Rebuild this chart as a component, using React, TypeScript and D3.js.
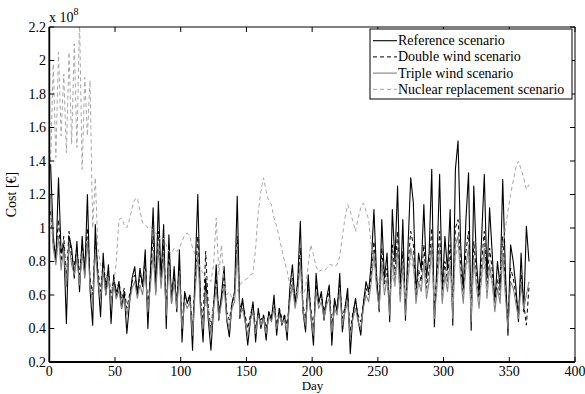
import React from "react";
import * as d3 from "d3";

// Values every second day (day 1, 3, 5, ..., 365), in units of 1e8 EUR
const DAY_STEP = 2;
const FIRST_DAY = 1;

const referenceScenario = [
  1.38, 0.95, 0.80, 1.30, 0.85, 0.90, 0.43, 0.95, 0.88, 0.70,
  0.92, 0.62, 0.95, 0.72, 1.20, 0.63, 0.42, 1.02, 0.70, 0.47,
  0.85, 0.60, 0.78, 0.43, 0.72, 0.58, 0.68, 0.52, 0.62, 0.37,
  0.55, 0.70, 0.77, 0.60, 0.76, 0.65, 0.87, 0.40, 0.75, 1.12,
  0.62, 1.16, 0.70, 1.02, 0.40, 0.96, 0.55, 0.77, 0.50, 0.87,
  0.32, 0.62, 0.55, 0.60, 0.27, 0.75, 1.20, 0.55, 0.32, 0.70,
  0.45, 0.27, 0.52, 0.78, 0.45, 0.60, 0.77, 0.45, 0.35, 0.55,
  0.62, 1.19, 0.46, 0.58, 0.45, 0.30, 0.45, 0.56, 0.32, 0.52,
  0.40, 0.48, 0.33, 0.50, 0.45, 0.60, 0.36, 0.52, 0.42, 0.48,
  0.33, 0.64, 0.78, 0.55, 0.68, 1.04, 0.50, 0.38, 0.72, 0.48,
  0.30, 0.73, 0.55, 0.62, 0.45, 0.58, 0.66, 0.30, 0.58, 0.50,
  0.73, 0.38, 0.52, 0.64, 0.25, 0.48, 0.58, 0.45, 0.36, 0.55,
  0.68, 0.62, 0.79, 1.11, 0.72, 0.50, 1.05, 0.70, 0.85, 0.44,
  1.11, 0.80, 1.25, 0.60, 1.05, 0.45, 0.90, 1.30, 1.15, 0.60,
  0.85, 0.75, 1.14, 0.70, 0.85, 1.35, 0.41, 0.80, 1.32, 0.62,
  0.95, 0.75, 1.11, 0.42, 1.35, 1.52, 0.90, 0.62, 1.05, 1.33,
  0.39, 1.25, 0.80, 0.60, 0.95, 1.32, 0.70, 1.12, 0.85, 0.55,
  0.80, 0.65, 1.29, 0.75, 0.36, 0.90, 0.80, 0.65, 0.44, 0.85,
  0.50, 1.01, 0.80,
];

const doubleWindScenario = [
  1.10, 0.90, 0.85, 1.05, 0.80, 0.95, 0.70, 0.98, 0.82, 0.78,
  0.88, 0.72, 0.90, 0.78, 1.00, 0.70, 0.60, 0.92, 0.75, 0.62,
  0.80, 0.66, 0.75, 0.58, 0.70, 0.62, 0.68, 0.58, 0.64, 0.52,
  0.60, 0.68, 0.72, 0.62, 0.72, 0.66, 0.80, 0.52, 0.72, 0.95,
  0.65, 0.98, 0.70, 0.90, 0.52, 0.85, 0.60, 0.72, 0.56, 0.78,
  0.42, 0.60, 0.56, 0.60, 0.40, 0.68, 0.95, 0.58, 0.45, 0.86,
  0.52, 0.40, 0.55, 0.70, 0.50, 0.58, 0.70, 0.50, 0.45, 0.55,
  0.60, 0.95, 0.52, 0.56, 0.48, 0.40, 0.48, 0.54, 0.40, 0.50,
  0.45, 0.48, 0.40, 0.50, 0.47, 0.56, 0.42, 0.52, 0.46, 0.48,
  0.42, 0.60, 0.70, 0.56, 0.64, 0.88, 0.54, 0.46, 0.66, 0.52,
  0.40, 0.66, 0.56, 0.60, 0.50, 0.57, 0.62, 0.42, 0.56, 0.52,
  0.66, 0.46, 0.53, 0.60, 0.38, 0.50, 0.56, 0.48, 0.44, 0.55,
  0.64, 0.60, 0.72, 0.92, 0.68, 0.55, 0.88, 0.66, 0.76, 0.50,
  0.90, 0.72, 0.98, 0.60, 0.86, 0.52, 0.78, 0.98, 0.90, 0.60,
  0.75, 0.68, 0.90, 0.64, 0.75, 1.00, 0.50, 0.72, 0.98, 0.60,
  0.80, 0.68, 0.90, 0.50, 1.00, 1.05, 0.78, 0.60, 0.86, 0.98,
  0.46, 0.92, 0.72, 0.58, 0.80, 0.98, 0.64, 0.88, 0.75, 0.55,
  0.70, 0.60, 0.95, 0.66, 0.42, 0.76, 0.70, 0.60, 0.48, 0.72,
  0.55, 0.42, 0.65,
];

const tripleWindScenario = [
  1.20, 0.88, 0.78, 0.95, 0.75, 0.88, 0.65, 0.90, 0.78, 0.72,
  0.82, 0.66, 0.85, 0.70, 0.92, 0.66, 0.55, 0.86, 0.68, 0.58,
  0.74, 0.60, 0.70, 0.55, 0.66, 0.58, 0.63, 0.52, 0.58, 0.48,
  0.56, 0.64, 0.68, 0.58, 0.66, 0.60, 0.74, 0.50, 0.66, 0.85,
  0.60, 0.88, 0.64, 0.82, 0.48, 0.78, 0.55, 0.68, 0.52, 0.72,
  0.40, 0.56, 0.52, 0.56, 0.36, 0.62, 0.85, 0.52, 0.40, 0.62,
  0.48, 0.36, 0.52, 0.64, 0.46, 0.55, 0.65, 0.46, 0.40, 0.52,
  0.56, 0.88, 0.48, 0.52, 0.44, 0.36, 0.45, 0.50, 0.37, 0.48,
  0.42, 0.46, 0.37, 0.47, 0.44, 0.52, 0.40, 0.48, 0.43, 0.45,
  0.38, 0.56, 0.66, 0.52, 0.60, 0.80, 0.50, 0.42, 0.62, 0.48,
  0.36, 0.62, 0.52, 0.56, 0.46, 0.54, 0.58, 0.38, 0.52, 0.48,
  0.62, 0.42, 0.50, 0.56, 0.34, 0.46, 0.52, 0.44, 0.40, 0.52,
  0.60, 0.56, 0.68, 0.85, 0.64, 0.52, 0.80, 0.60, 0.70, 0.48,
  0.82, 0.66, 0.88, 0.56, 0.78, 0.48, 0.70, 0.88, 0.80, 0.55,
  0.68, 0.62, 0.80, 0.58, 0.68, 0.90, 0.46, 0.65, 0.88, 0.55,
  0.72, 0.62, 0.80, 0.46, 0.90, 0.95, 0.70, 0.55, 0.78, 0.88,
  0.44, 0.82, 0.65, 0.52, 0.72, 0.88, 0.58, 0.78, 0.68, 0.50,
  0.64, 0.55, 0.85, 0.60, 0.40, 0.68, 0.64, 0.55, 0.46, 0.66,
  0.52, 0.60, 0.68,
];

const nuclearReplacementScenario = [
  1.40, 1.98, 1.42, 2.05, 1.55, 1.92, 1.45, 2.05, 1.50, 2.10,
  1.48, 2.25, 1.35, 1.90, 1.55, 1.88, 1.00, 1.30, 0.88, 0.78,
  0.76, 0.72, 0.70, 0.64, 0.66, 0.80, 1.05, 1.06, 1.02, 1.00,
  1.05, 1.12, 1.17, 1.18, 1.10, 1.03, 1.02, 1.00, 1.01, 0.98,
  0.97, 0.95, 0.92, 0.94, 0.90, 0.86, 0.85, 0.88, 0.86, 0.88,
  0.92, 0.96, 0.97, 0.95, 0.88, 0.84, 0.80, 0.76, 0.73, 0.70,
  0.70, 0.68, 0.78, 1.06, 0.72, 0.90, 0.68, 0.60, 0.62, 0.58,
  0.60, 0.62, 0.66, 0.68, 0.69, 0.70, 0.72, 0.73, 0.88, 1.10,
  1.22, 1.30, 1.22, 1.16, 1.14, 1.06, 1.01, 0.94, 0.87, 0.80,
  0.74, 0.66, 0.62, 0.60, 0.63, 0.62, 0.60, 0.64, 0.78, 0.90,
  0.84, 0.77, 0.74, 0.75, 0.74, 0.76, 0.78, 0.78, 0.77, 0.78,
  0.83, 0.95, 1.06, 1.14, 1.10, 1.04, 0.98, 1.06, 1.12, 1.15,
  1.10, 1.05, 0.89, 0.78, 0.72, 0.66, 0.70, 0.62, 0.68, 0.60,
  0.72, 0.65, 0.80, 0.62, 0.75, 0.58, 0.70, 0.82, 0.76, 0.62,
  0.70, 0.64, 0.78, 0.60, 0.72, 0.80, 0.56, 0.68, 0.85, 0.60,
  0.74, 0.65, 0.80, 0.55, 0.82, 0.90, 0.72, 0.60, 0.76, 0.82,
  0.52, 0.78, 0.66, 0.56, 0.70, 0.80, 0.60, 0.74, 0.66, 0.54,
  0.68, 0.72, 0.88, 1.00, 1.10, 1.20, 1.28, 1.36, 1.40, 1.35,
  1.30, 1.23, 1.26,
];

const xTicks = [0, 50, 100, 150, 200, 250, 300, 350, 400];
const yTicks = [0.2, 0.4, 0.6, 0.8, 1, 1.2, 1.4, 1.6, 1.8, 2, 2.2];
const legendLabels = [
  "Reference scenario",
  "Double wind scenario",
  "Triple wind scenario",
  "Nuclear replacement scenario",
];

const W = 585;
const H = 394;
const L = 49.3, R = 575, T = 27, B = 362;
const FONT = "'Liberation Serif', 'Times New Roman', serif";

const styles = [
  { color: "#000000", dash: "none", width: 1.1 },
  { color: "#000000", dash: "4,3", width: 1 },
  { color: "#808080", dash: "none", width: 1.1 },
  { color: "#a6a6a6", dash: "4,3", width: 1 },
];

export default function App() {
  const x = d3.scaleLinear().domain([0, 400]).range([L, R]);
  const y = d3.scaleLinear().domain([0.2, 2.2]).range([B, T]);
  const series = [referenceScenario, doubleWindScenario, tripleWindScenario, nuclearReplacementScenario];
  const line = d3
    .line<number>()
    .x((_, i) => x(FIRST_DAY + i * DAY_STEP))
    .y((v) => y(v));
  const tick = 5;

  const legX = 370, legY = 29, legW = 202, legH = 70;
  const rowY = (k: number) => 40.7 + k * 16.2;

  return (
    <div style={{ position: "fixed", left: 0, top: 0, width: W, height: H, background: "#fff" }}>
      <svg width={W} height={H} style={{ display: "block" }} fontFamily={FONT}>
        <defs>
          <clipPath id="plotclip">
            <rect x={L} y={T} width={R - L} height={B - T} />
          </clipPath>
        </defs>
        <rect x={0} y={0} width={W} height={H} fill="#fff" />
        <g clipPath="url(#plotclip)">
          {series.map((s, k) => (
            <path
              key={k}
              d={line(s) || ""}
              fill="none"
              stroke={styles[k].color}
              strokeWidth={styles[k].width}
              strokeDasharray={styles[k].dash}
              strokeLinejoin="round"
            />
          ))}
        </g>
        {/* axes box */}
        <line x1={L} y1={T} x2={R} y2={T} stroke="#000" strokeWidth={1} />
        <line x1={R} y1={T} x2={R} y2={B} stroke="#000" strokeWidth={1} />
        <line x1={L} y1={B} x2={R} y2={B} stroke="#000" strokeWidth={1.8} />
        <line x1={L} y1={T} x2={L} y2={B} stroke="#000" strokeWidth={1.8} />
        {xTicks.map((t) => (
          <g key={"x" + t}>
            <line x1={x(t)} x2={x(t)} y1={B} y2={B - tick} stroke="#000" strokeWidth={1} />
            <line x1={x(t)} x2={x(t)} y1={T} y2={T + tick} stroke="#000" strokeWidth={1} />
            <text x={x(t)} y={376} textAnchor="middle" fontSize={14}>
              {t}
            </text>
          </g>
        ))}
        {yTicks.map((t) => (
          <g key={"y" + t}>
            <line x1={L} x2={L + tick} y1={y(t)} y2={y(t)} stroke="#000" strokeWidth={1} />
            <line x1={R} x2={R - tick} y1={y(t)} y2={y(t)} stroke="#000" strokeWidth={1} />
            <text x={46} y={y(t) + 4.5} textAnchor="end" fontSize={14}>
              {String(t)}
            </text>
          </g>
        ))}
        <text x={49} y={21.5} fontSize={14}>
          x 10
          <tspan dy={-7} fontSize={10}>8</tspan>
        </text>
        <text x={312.5} y={389.5} textAnchor="middle" fontSize={13}>
          Day
        </text>
        <text transform={`translate(16,${(T + B) / 2}) rotate(-90)`} textAnchor="middle" fontSize={14}>
          Cost [€]
        </text>
        {/* legend */}
        <rect x={legX} y={legY} width={legW} height={legH} fill="#fff" stroke="#000" strokeWidth={1} />
        {legendLabels.map((lab, k) => (
          <g key={lab}>
            <line
              x1={373}
              x2={397}
              y1={rowY(k)}
              y2={rowY(k)}
              stroke={styles[k].color}
              strokeWidth={styles[k].width}
              strokeDasharray={styles[k].dash}
            />
            <text x={398} y={rowY(k) + 4.5} fontSize={14}>
              {lab}
            </text>
          </g>
        ))}
      </svg>
    </div>
  );
}
